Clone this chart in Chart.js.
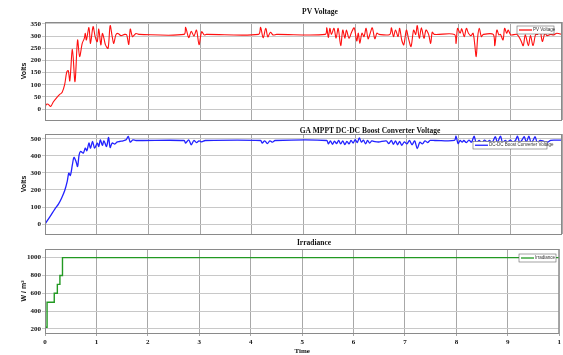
<!DOCTYPE html>
<html>
<head>
<meta charset="utf-8">
<script src="https://cdn.jsdelivr.net/npm/chart.js@4.4.1/dist/chart.umd.min.js"></script>
<style>
  body { margin: 0; background: #fff; }
  #wrap { position: relative; width: 563px; height: 355px; }
  #wrap canvas { position: absolute; left: 0; top: 0; }
</style>
</head>
<body>
<div id="wrap">
  <canvas id="pvChart" width="563" height="355"></canvas>
  <canvas id="boostChart" width="563" height="355"></canvas>
  <canvas id="irrChart" width="563" height="355"></canvas>
</div>
<script>
// time axis (s)
const xTicks = [0, 1, 2, 3, 4, 5, 6, 7, 8, 9, 10];
const xTickLabels = ['0', '1', '2', '3', '4', '5', '6', '7', '8', '9', '1'];

// PV voltage (V)
const pvTime = [0, 0.02, 0.06, 0.11, 0.16, 0.22, 0.29, 0.33, 0.38, 0.42, 0.45, 0.48, 0.53, 0.58, 0.63, 0.67, 0.72, 0.76, 0.78, 0.80,
  0.85, 0.88, 0.93, 0.97, 1.01, 1.04, 1.08, 1.11, 1.14, 1.17, 1.22, 1.26, 1.30, 1.33, 1.37, 1.41, 1.47, 1.54, 1.58, 1.62,
  1.65, 1.69, 1.73, 1.76, 1.83, 2.69, 2.72, 2.78, 2.83, 2.88, 2.93, 2.98, 3.03, 3.08, 3.12, 4.13, 4.17, 4.22, 4.27, 4.31,
  4.36, 4.41, 4.48, 5.42, 5.45, 5.48, 5.51, 5.54, 5.59, 5.63, 5.67, 5.72, 5.76, 5.80, 5.83, 5.88, 5.93, 5.98, 6.03, 6.06,
  6.09, 6.13, 6.17, 6.21, 6.25, 6.29, 6.33, 6.38, 6.42, 6.46, 6.67, 6.70, 6.74, 6.78, 6.83, 6.86, 6.90, 6.94, 6.99, 7.03,
  7.08, 7.13, 7.17, 7.20, 7.24, 7.28, 7.33, 7.37, 7.42, 7.46, 7.49, 7.53, 7.92, 7.95, 7.98, 8.03, 8.06, 8.11, 8.15, 8.19,
  8.24, 8.28, 8.31, 8.34, 8.37, 8.40, 8.44, 8.48, 8.67, 8.70, 8.74, 8.78, 8.81, 8.86, 8.89, 8.93, 8.96, 9.01, 9.13, 9.20,
  9.25, 9.29, 9.35, 9.39, 9.44, 9.49, 9.53, 9.57, 9.62, 9.67, 9.71, 9.78, 9.84, 9.90, 10];
const pvVolts = [0, 18, 20, 11, 29, 45, 61, 68, 100, 152, 158, 116, 246, 113, 284, 216, 270, 291, 311, 284,
  335, 270, 339, 298, 277, 329, 264, 311, 291, 264, 250, 343, 298, 270, 305, 311, 302, 307, 305, 266,
  329, 298, 305, 311, 307, 307, 336, 294, 320, 300, 325, 265, 318, 305, 307, 307, 336, 293, 332, 297,
  316, 305, 307, 307, 334, 294, 332, 307, 332, 291, 332, 261, 325, 291, 325, 291, 316, 334, 280, 312,
  270, 312, 298, 332, 289, 312, 334, 289, 312, 307, 307, 334, 298, 325, 298, 332, 284, 264, 325, 291,
  257, 325, 307, 343, 291, 334, 291, 325, 307, 270, 316, 307, 307, 270, 332, 312, 330, 298, 332, 312,
  302, 312, 270, 216, 298, 332, 298, 307, 307, 261, 325, 305, 307, 284, 332, 312, 325, 305, 307, 284,
  261, 305, 261, 302, 261, 307, 307, 334, 278, 312, 302, 307, 305, 312, 307];
const pvTicks = [0, 50, 100, 150, 200, 250, 300, 350];

// DC-DC boost converter voltage (V)
const boostTime = [0, 0.10, 0.19, 0.26, 0.32, 0.38, 0.43, 0.46, 0.49, 0.53, 0.56, 0.60, 0.63, 0.66, 0.69, 0.74, 0.78, 0.81, 0.85, 0.88,
  0.92, 0.96, 1.01, 1.04, 1.07, 1.11, 1.14, 1.19, 1.23, 1.26, 1.30, 1.35, 1.39, 1.44, 1.51, 1.57, 1.61, 1.65, 1.70, 1.76,
  2.69, 2.72, 2.78, 2.83, 2.88, 2.93, 2.98, 3.03, 3.10, 4.17, 4.20, 4.25, 4.30, 4.35, 4.40, 4.45, 5.45, 5.48, 5.52, 5.56,
  5.60, 5.64, 5.68, 5.72, 5.76, 5.80, 5.84, 5.88, 5.92, 5.96, 6.00, 6.04, 6.08, 6.12, 6.16, 6.20, 6.24, 6.28, 6.32, 6.36,
  6.45, 6.60, 6.65, 6.70, 6.74, 6.78, 6.82, 6.86, 6.90, 6.95, 7.00, 7.05, 7.10, 7.15, 7.20, 7.25, 7.30, 7.35, 7.40, 7.45,
  7.54, 7.92, 7.95, 7.99, 8.03, 8.07, 8.10, 8.15, 8.20, 8.25, 8.30, 8.34, 8.40, 8.45, 8.50, 8.55, 8.60, 8.65, 8.71, 8.75,
  8.81, 8.85, 8.90, 8.95, 9.00, 9.05, 9.10, 9.14, 9.18, 9.22, 9.27, 9.31, 9.36, 9.40, 9.44, 9.48, 9.52, 9.58, 9.65, 9.72,
  9.78, 9.85, 10];
const boostVolts = [0, 45, 88, 117, 152, 195, 250, 299, 285, 348, 391, 367, 338, 406, 426, 416, 445, 430, 475, 445,
  484, 445, 475, 455, 494, 461, 488, 455, 508, 449, 475, 469, 480, 484, 488, 494, 514, 480, 494, 490,
  490, 475, 494, 465, 490, 478, 488, 482, 490, 490, 475, 488, 472, 488, 480, 490, 490, 470, 488, 468,
  486, 472, 490, 470, 488, 466, 485, 470, 490, 475, 495, 478, 505, 480, 492, 470, 490, 475, 488, 485,
  481, 488, 472, 490, 468, 488, 465, 485, 462, 482, 470, 490, 465, 488, 443, 480, 470, 488, 478, 490,
  490, 490, 515, 472, 490, 480, 490, 478, 492, 480, 515, 478, 490, 475, 492, 482, 490, 478, 512, 480,
  515, 478, 490, 482, 492, 480, 490, 515, 478, 490, 512, 480, 515, 478, 490, 512, 480, 490, 485, 480,
  490, 492, 492];
const boostTicks = [0, 100, 200, 300, 400, 500];

// irradiance (W/m^2), stepped
const irrTime = [0, 0.04, 0.18, 0.24, 0.29, 0.34, 10];
const irrValues = [220, 500, 600, 700, 800, 1000, 1000];
const irrTicks = [200, 400, 600, 800, 1000];

const tickFont = { family: 'Liberation Serif', size: 7, weight: 'bold' };
const axisTitleFont = { family: 'Liberation Sans', size: 7, weight: 'bold' };

// titles, legend boxes and plot frame
const panelPlugin = {
  id: 'panel',
  afterDraw(chart, args, opts) {
    const ctx = chart.ctx;
    const a = chart.chartArea;
    ctx.save();
    ctx.strokeStyle = '#8a8a8a';
    ctx.lineWidth = 1;
    ctx.strokeRect(a.left + 0.5, a.top + 0.5, a.right - a.left - 1, a.bottom - a.top);

    ctx.fillStyle = '#111';
    ctx.font = 'bold 7.5px "Liberation Serif"';
    ctx.textAlign = 'center';
    ctx.textBaseline = 'middle';
    ctx.fillText(opts.title, opts.titleX, opts.titleY);

    const lg = opts.legend;
    ctx.fillStyle = '#fff';
    ctx.fillRect(lg.x, lg.y, lg.w, lg.h);
    ctx.strokeStyle = '#666';
    ctx.lineWidth = 0.6;
    ctx.strokeRect(lg.x, lg.y, lg.w, lg.h);
    ctx.strokeStyle = lg.color;
    ctx.lineWidth = 1.3;
    ctx.beginPath();
    ctx.moveTo(lg.x + 2, lg.y + lg.h / 2);
    ctx.lineTo(lg.x + 15, lg.y + lg.h / 2);
    ctx.stroke();
    ctx.fillStyle = '#333';
    ctx.font = '4.5px "Liberation Sans"';
    ctx.textAlign = 'left';
    ctx.fillText(lg.text, lg.x + 16, lg.y + lg.h / 2);
    ctx.restore();
  }
};

function makeChart(id, cfg) {
  const points = cfg.time.map((t, i) => ({ x: t, y: cfg.values[i] }));
  return new Chart(document.getElementById(id).getContext('2d'), {
    type: 'line',
    data: {
      datasets: [{
        label: cfg.legend.text,
        data: points,
        borderColor: cfg.color,
        borderWidth: cfg.lineWidth,
        pointRadius: 0,
        fill: false,
        tension: cfg.stepped ? 0 : 0.3,
        stepped: cfg.stepped || false
      }]
    },
    options: {
      responsive: false,
      animation: false,
      layout: { padding: { top: cfg.top, bottom: cfg.padBottom, left: 0, right: 1 } },
      plugins: {
        legend: { display: false },
        tooltip: { enabled: false },
        panel: { title: cfg.title, titleX: cfg.titleX, titleY: cfg.titleY, legend: cfg.legend }
      },
      scales: {
        x: {
          type: 'linear',
          min: 0,
          max: 10,
          afterBuildTicks: s => { s.ticks = xTicks.map(v => ({ value: v })); },
          afterFit: s => { s.height = cfg.showX ? 22 : 0; },
          ticks: {
            display: cfg.showX,
            font: tickFont,
            color: '#111',
            padding: 2,
            maxRotation: 0,
            autoSkip: false,
            callback: (v, i) => xTickLabels[i]
          },
          grid: { color: '#a8a8a8', drawTicks: cfg.showX, tickLength: 3 },
          border: { display: false },
          title: {
            display: cfg.showX,
            text: 'Time',
            font: { family: 'Liberation Serif', size: 7, weight: 'bold' },
            color: '#111',
            padding: 0
          }
        },
        y: {
          min: cfg.yMin,
          max: cfg.yMax,
          afterBuildTicks: s => { s.ticks = cfg.ticks.map(v => ({ value: v })); },
          afterFit: s => { s.width = 45; },
          ticks: { font: tickFont, color: '#111', padding: 1, callback: v => String(v) },
          grid: { color: '#c8c8c8', tickLength: 3 },
          border: { display: false },
          title: {
            display: true,
            text: cfg.yTitle,
            font: axisTitleFont,
            color: '#111',
            padding: { top: 20, bottom: 0 }
          }
        }
      }
    },
    plugins: [panelPlugin]
  });
}

makeChart('pvChart', {
  time: pvTime, values: pvVolts, ticks: pvTicks,
  color: '#ff1010', lineWidth: 1.1,
  yMin: -45, yMax: 358, top: 22, padBottom: 235, showX: false,
  yTitle: 'Volts',
  title: 'PV Voltage', titleX: 320, titleY: 12.5,
  legend: { text: 'PV Voltage', color: '#ff1010', x: 517, y: 26, w: 37, h: 8 }
});

makeChart('boostChart', {
  time: boostTime, values: boostVolts, ticks: boostTicks,
  color: '#2222ff', lineWidth: 1.3,
  yMin: -58, yMax: 528, top: 134, padBottom: 121, showX: false,
  yTitle: 'Volts',
  title: 'GA MPPT DC-DC Boost Converter Voltage', titleX: 370, titleY: 131,
  legend: { text: 'DC-DC Boost Converter Voltage', color: '#2222ff', x: 473, y: 141.5, w: 74, h: 7.5 }
});

makeChart('irrChart', {
  time: irrTime, values: irrValues, ticks: irrTicks,
  color: '#229922', lineWidth: 1.4, stepped: true,
  yMin: 155, yMax: 1097, top: 249, padBottom: 0, showX: true,
  yTitle: 'W / m²',
  title: 'Irradiance', titleX: 314, titleY: 243,
  legend: { text: 'Irradiance', color: '#229922', x: 519, y: 254, w: 37, h: 8 }
});
</script>
</body>
</html>
